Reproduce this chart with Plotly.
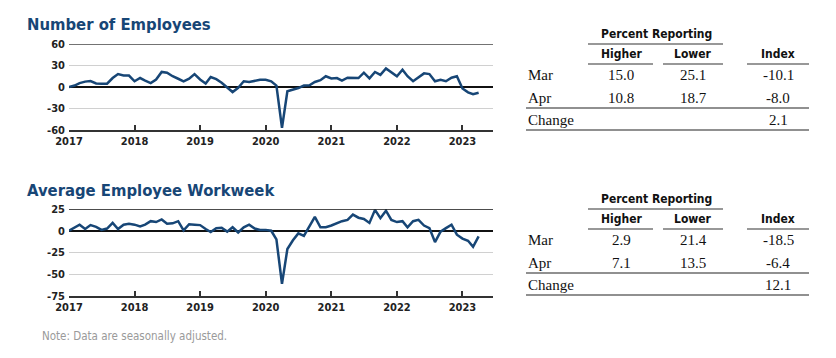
import plotly.graph_objects as go
import pandas as pd

months = pd.date_range("2017-01-01", "2023-04-01", freq="MS")

employees = [0, 2, 5.5, 7.5, 8.3, 5, 4.6, 4.6, 12.5, 18, 16, 16,
             8, 12.5, 9, 5.5, 10.5, 21, 20, 15, 11.5, 8, 11.5, 18,
             10.5, 5, 14, 11, 6, 0, -7, -1, 8, 7, 9, 10,
             10, 8, 2, -57, -6, -4, -1.5, 2, 2.5, 7, 9.5, 15,
             12, 12.5, 9, 13, 13, 12.5, 20, 12, 21, 17, 26, 21,
             15, 24, 15, 8, 14, 19, 18, 8, 10, 8, 13, 15,
             -2, -7.5, -10.1, -8.0]

workweek = [0, 4, 7, 2, 6.5, 4.5, 1, 2.5, 9, 2, 7, 8,
            7, 5, 7, 11, 10, 13, 8, 8.5, 11, 0.5, 7.5, 7,
            6.5, 2, -1.5, 3, 3.5, -1, 4, -2, 4, 7, 2.5, 1,
            1, 0, -10, -61, -21, -11, -3, -6, 6, 16, 4, 4,
            6, 9, 11, 12.5, 18.5, 15, 13.5, 9, 24, 14.5, 23, 12.5,
            10, 11, 4, 11, 12.5, 6, 3, -13, -1, 3, 7, -4.5,
            -9, -11.5, -18.5, -6.4]

year_ticks = ["2017", "2018", "2019", "2020", "2021", "2022", "2023"]
emp_yticks = [-60, -30, 0, 30, 60]
ww_yticks = [-75, -50, -25, 0, 25]

table_cols = ["Higher", "Lower", "Index"]
row_labels = ["Mar", "Apr", "Change"]
emp_table = {"Mar": ["15.0", "25.1", "-10.1"], "Apr": ["10.8", "18.7", "-8.0"], "Change": ["", "", "2.1"]}
ww_table = {"Mar": ["2.9", "21.4", "-18.5"], "Apr": ["7.1", "13.5", "-6.4"], "Change": ["", "", "12.1"]}

W, H = 836, 358
OFF = 8  # page body margin
def fx(p): return (p - OFF) / W
def fy(p): return 1 - (p - OFF) / H

NAVY = "#174676"
SANS = "DejaVu Sans Condensed, Liberation Sans Narrow, sans-serif"
SERIF = "Liberation Serif, Times New Roman, serif"

fig = go.Figure()
fig.add_trace(go.Scatter(x=months, y=employees, mode="lines",
                         line=dict(color=NAVY, width=2.5), xaxis="x", yaxis="y", showlegend=False))
fig.add_trace(go.Scatter(x=months, y=workweek, mode="lines",
                         line=dict(color=NAVY, width=2.5), xaxis="x2", yaxis="y2", showlegend=False))

tickvals = [f"{y}-01-01" for y in year_ticks]
xcommon = dict(range=["2017-01-01", "2023-06-20"], tickvals=tickvals, ticktext=year_ticks,
               showgrid=False, showline=True, linecolor="#333", linewidth=1.5,
               ticks="inside", ticklen=5, tickcolor="#333", tickwidth=1.5, automargin=False,
               tickfont=dict(family=SANS, size=11, color="#222", weight="bold"), zeroline=False)
ycommon = dict(showgrid=True, gridcolor="#d0d0d0", gridwidth=1, zeroline=True,
               zerolinecolor="#111", zerolinewidth=1.5, showline=False, ticks="", automargin=False,
               ticklabelstandoff=3,
               tickfont=dict(family=SANS, size=11, color="#222", weight="bold"))

fig.update_layout(
    width=W, height=H, margin=dict(l=0, r=0, t=0, b=0, autoexpand=False),
    paper_bgcolor="white", plot_bgcolor="white",
    xaxis=dict(domain=[fx(69), fx(493)], anchor="y", **xcommon),
    yaxis=dict(domain=[fy(130), fy(44)], range=[-60, 60], tickvals=emp_yticks,
               ticktext=[str(v) for v in emp_yticks], anchor="x", **ycommon),
    xaxis2=dict(domain=[fx(69), fx(493)], anchor="y2", **xcommon),
    yaxis2=dict(domain=[fy(296), fy(209)], range=[-75, 25], tickvals=ww_yticks,
                ticktext=[str(v) for v in ww_yticks], anchor="x2", **ycommon),
)

shapes = []
shapes.append(dict(type="line", xref="x domain", yref="y", x0=0, x1=1, y0=60, y1=60,
                   line=dict(color="#444", width=1.5)))
shapes.append(dict(type="line", xref="x2 domain", yref="y2", x0=0, x1=1, y0=25, y1=25,
                   line=dict(color="#111", width=1.5)))

annotations = []
annotations.append(dict(text="<b>Number of Employees</b>", x=fx(25), y=fy(25), xref="paper", yref="paper",
                        xanchor="left", yanchor="middle", showarrow=False,
                        font=dict(family=SANS, size=16.5, color=NAVY)))
annotations.append(dict(text="<b>Average Employee Workweek</b>", x=fx(25), y=fy(190), xref="paper", yref="paper",
                        xanchor="left", yanchor="middle", showarrow=False,
                        font=dict(family=SANS, size=16.5, color=NAVY)))
annotations.append(dict(text="Note: Data are seasonally adjusted.", x=fx(40), y=fy(336), xref="paper", yref="paper",
                        xanchor="left", yanchor="middle", showarrow=False,
                        font=dict(family=SANS, size=11.5, color="#9a9a9a")))

col_x = [621, 693, 778]
underlines = [(588, 653), (663, 723), (747, 809)]
HEAD = dict(family=SANS, size=12, color="#111", weight="bold")

def add_table(top, data):
    annotations.append(dict(text="Percent Reporting", x=fx(656), y=fy(top), xref="paper", yref="paper",
                            xanchor="center", yanchor="middle", showarrow=False, font=HEAD))
    shapes.append(dict(type="line", xref="paper", yref="paper", x0=fx(588), x1=fx(723),
                       y0=fy(top + 10), y1=fy(top + 10), line=dict(color="#333", width=1.2)))
    for cx, c, (a, b) in zip(col_x, table_cols, underlines):
        annotations.append(dict(text=c, x=fx(cx), y=fy(top + 20), xref="paper", yref="paper",
                                xanchor="center", yanchor="middle", showarrow=False, font=HEAD))
        shapes.append(dict(type="line", xref="paper", yref="paper", x0=fx(a), x1=fx(b),
                           y0=fy(top + 30), y1=fy(top + 30), line=dict(color="#333", width=1.2)))
    row_y = [top + 41, top + 64, top + 86]
    for ry, rl in zip(row_y, row_labels):
        annotations.append(dict(text=rl, x=fx(526), y=fy(ry), xref="paper", yref="paper",
                                xanchor="left", yanchor="middle", showarrow=False,
                                font=dict(family=SERIF, size=15, color="#111")))
        for cx, v in zip(col_x, data[rl]):
            if v:
                annotations.append(dict(text=v, x=fx(cx), y=fy(ry), xref="paper", yref="paper",
                                        xanchor="center", yanchor="middle", showarrow=False,
                                        font=dict(family=SERIF, size=15, color="#111")))
    for ly in (top + 74, top + 96):
        shapes.append(dict(type="line", xref="paper", yref="paper", x0=fx(526), x1=fx(809),
                           y0=fy(ly), y1=fy(ly), line=dict(color="#222", width=1.2)))

add_table(34, emp_table)
add_table(199, ww_table)

fig.update_layout(shapes=shapes, annotations=annotations)
fig.write_html("out.html")
